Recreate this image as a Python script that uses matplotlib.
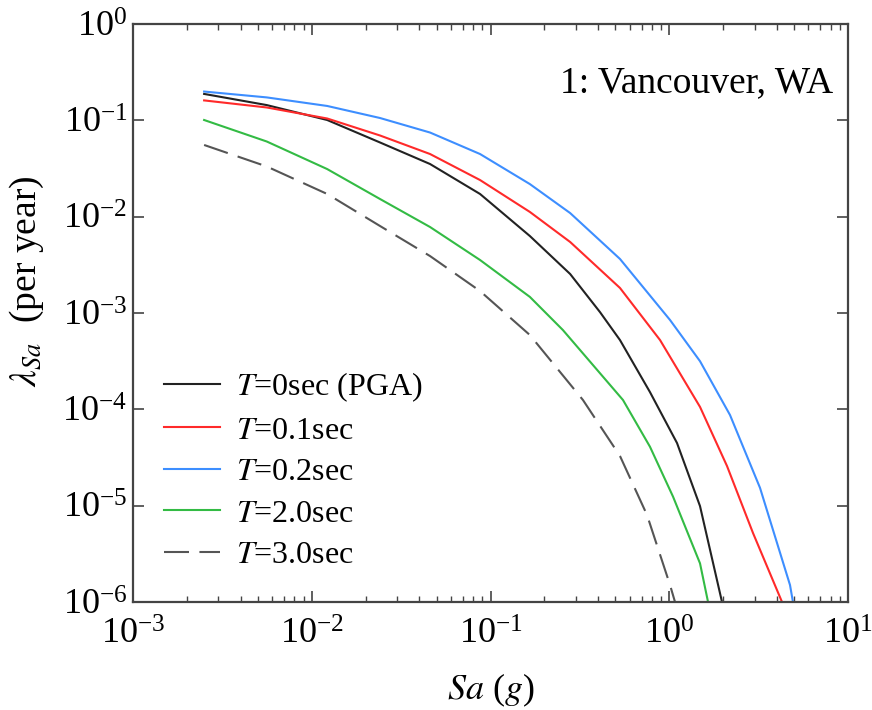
import matplotlib
matplotlib.use("Agg")
import matplotlib.pyplot as plt
from matplotlib.ticker import LogLocator, NullLocator

plt.rcParams["font.family"] = ["Liberation Serif", "DejaVu Serif"]
plt.rcParams["mathtext.fontset"] = "stix"

# hazard curves
sa_t0 = [0.0025, 0.0056, 0.0122, 0.0241, 0.0459, 0.0874, 0.166, 0.279, 0.410, 0.530, 0.780, 1.105, 1.486, 1.973]
lam_t0 = [0.188, 0.144, 0.1008, 0.0589, 0.0352, 0.0172, 0.0063, 0.00254, 0.00102, 5.24e-4, 1.51e-4, 4.47e-5, 9.9e-6, 1.0e-6]

sa_t01 = [0.0025, 0.0056, 0.0122, 0.0241, 0.0459, 0.0874, 0.166, 0.279, 0.530, 0.888, 1.486, 2.104, 2.941, 4.274]
lam_t01 = [0.161, 0.136, 0.1045, 0.0696, 0.0447, 0.0240, 0.0112, 0.00546, 0.00182, 5.24e-4, 1.06e-4, 2.58e-5, 5.2e-6, 1.0e-6]

sa_t02 = [0.0025, 0.0056, 0.0122, 0.0241, 0.0459, 0.0874, 0.166, 0.279, 0.530, 1.010, 1.486, 2.187, 3.219, 4.737, 4.92]
lam_t02 = [0.199, 0.173, 0.141, 0.1057, 0.0747, 0.0447, 0.0218, 0.0109, 0.00364, 8.46e-4, 3.16e-4, 8.73e-5, 1.53e-5, 1.5e-6, 1.0e-6]

sa_t20 = [0.0025, 0.0056, 0.0122, 0.0241, 0.0459, 0.0874, 0.166, 0.254, 0.551, 0.780, 1.050, 1.486, 1.648]
lam_t20 = [0.1008, 0.0603, 0.0312, 0.01525, 0.00781, 0.00355, 0.00147, 6.66e-4, 1.25e-4, 4.09e-5, 1.24e-5, 2.52e-6, 1.0e-6]

sa_t30 = [0.0025, 0.0056, 0.0122, 0.0241, 0.0459, 0.0874, 0.166, 0.329, 0.530, 0.751, 1.010, 1.077]
lam_t30 = [0.0555, 0.0332, 0.0172, 0.0080, 0.0039, 0.00169, 5.91e-4, 1.25e-4, 3.28e-5, 8.0e-6, 1.5e-6, 1.0e-6]

labels = ["$T$=0sec (PGA)", "$T$=0.1sec", "$T$=0.2sec", "$T$=2.0sec", "$T$=3.0sec"]
x_ticks = [1e-3, 1e-2, 1e-1, 1e0, 1e1]
y_ticks = [1e-6, 1e-5, 1e-4, 1e-3, 1e-2, 1e-1, 1e0]

fig = plt.figure(figsize=(8.72, 7.10), dpi=100)
ax = fig.add_axes([0.1525, 0.1521, 0.82, 0.8141])

ax.plot(sa_t0, lam_t0, color="#222222", lw=1.5, label=labels[0])
ax.plot(sa_t01, lam_t01, color="#ff2a2a", lw=1.5, label=labels[1])
ax.plot(sa_t02, lam_t02, color="#3d8eff", lw=1.5, label=labels[2])
ax.plot(sa_t20, lam_t20, color="#33bb44", lw=1.5, label=labels[3])
ax.plot(sa_t30, lam_t30, color="#555555", lw=1.5, dashes=(12, 5), label=labels[4])

ax.set_xscale("log")
ax.set_yscale("log")
ax.set_xlim(1e-3, 1e1)
ax.set_ylim(1e-6, 1e0)

ax.set_xticks(x_ticks)
ax.set_yticks(y_ticks)
ax.xaxis.set_minor_locator(LogLocator(base=10, subs=range(2, 10), numticks=20))
ax.yaxis.set_minor_locator(NullLocator())

ax.tick_params(which="both", direction="in", top=True, right=True, colors="#444444",
               labelcolor="black", labelsize=26)
ax.tick_params(which="major", length=8, width=1.2)
ax.tick_params(axis="x", which="major", pad=12)
ax.tick_params(axis="y", which="major", pad=4)
ax.tick_params(which="minor", length=4, width=1.0)
for s in ax.spines.values():
    s.set_color("#444444")
    s.set_linewidth(1.6)

ax.set_xlabel("$Sa$ ($g$)", fontsize=26, labelpad=14)
ax.set_ylabel(r"$\lambda_{Sa}$  (per year)", fontsize=27)
ax.yaxis.set_label_coords(-0.122, 0.555)

ax.text(0.979, 0.898, "1: Vancouver, WA", transform=ax.transAxes, ha="right", va="center",
        fontsize=27)

ax.legend(loc="lower left", bbox_to_anchor=(0.026, 0.033), frameon=False, fontsize=23,
          handlelength=1.75, handletextpad=0.5, labelspacing=0.38, borderaxespad=0)

fig.savefig("out.png", dpi=100)
